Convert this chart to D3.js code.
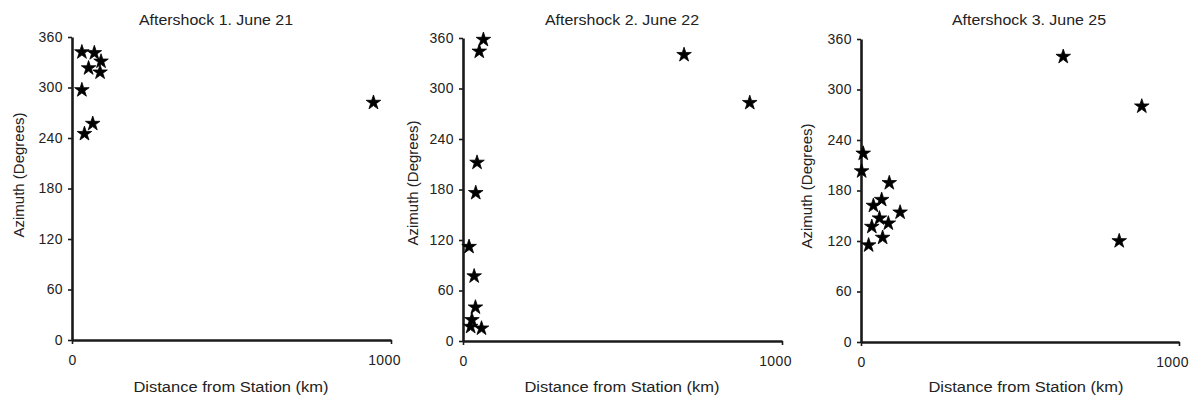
<!DOCTYPE html>
<html>
<head>
<meta charset="utf-8">
<script src="https://cdn.jsdelivr.net/npm/d3@7"></script>
<style>
  html, body { margin: 0; padding: 0; background: #fff; }
  svg { display: block; }
  text { font-family: "Liberation Sans", Arial, sans-serif; fill: #222; }
</style>
</head>
<body>
<svg id="chart" width="1194" height="401"></svg>
<script>
// ---- Data ----
const titles = ["Aftershock 1. June 21", "Aftershock 2. June 22", "Aftershock 3. June 25"];
const xTickValues = [0, 1000];
const yTickValues = [0, 60, 120, 180, 240, 300, 360];
const xLabel = "Distance from Station (km)";
const yLabel = "Azimuth (Degrees)";

const dist1 = [31, 70, 91, 52, 88, 31, 65, 39, 945];
const az1   = [342, 341, 331, 323, 318, 297, 257, 245, 282];

const dist2 = [64, 51, 693, 899, 44, 40, 19, 35, 39, 28, 24, 58];
const az2   = [358, 344, 340, 283, 212, 176, 112, 77, 40, 25, 17, 15];

const dist3 = [636, 883, 7, 2, 89, 65, 39, 123, 58, 86, 34, 68, 24, 812];
const az3   = [339, 280, 224, 203, 189, 169, 162, 154, 147, 141, 137, 124, 115, 120];

const seriesDist = [dist1, dist2, dist3];
const seriesAz = [az1, az2, az3];

// ---- Layout (pixel frames of the three panels) ----
const panels = [
  { x0: 72,  x1: 391,  y0: 340, y1: 37, titleX: 216,  xTitleX: 231,  yTitleX: 19,  yTitleY: 175 },
  { x0: 463, x1: 782,  y0: 341, y1: 38, titleX: 622,  xTitleX: 622,  yTitleX: 413, yTitleY: 183 },
  { x0: 861, x1: 1179, y0: 342, y1: 39, titleX: 1029, xTitleX: 1026, yTitleX: 807, yTitleY: 186 }
];

const svg = d3.select("#chart");
const star = d3.symbol().type(d3.symbolStar).size(66);

panels.forEach((p, i) => {
  const x = d3.scaleLinear().domain([0, 1000]).range([p.x0, p.x1]);
  const y = d3.scaleLinear().domain([0, 360]).range([p.y0, p.y1]);
  const g = svg.append("g");

  // y axis
  const yAxis = g.append("g")
    .attr("transform", `translate(${p.x0},0)`)
    .call(d3.axisLeft(y).tickValues(yTickValues).tickFormat(d3.format("d"))
      .tickSize(4).tickSizeOuter(0).tickPadding(5));
  // x axis
  const xAxis = g.append("g")
    .attr("transform", `translate(0,${p.y0})`)
    .call(d3.axisBottom(x).tickValues(xTickValues).tickFormat(d3.format("d"))
      .tickSize(4).tickSizeOuter(0).tickPadding(11));

  [yAxis, xAxis].forEach(a => {
    a.select(".domain").attr("stroke", "#1a1a1a").attr("stroke-width", 2.6);
    a.selectAll(".tick line").attr("stroke", "#1a1a1a").attr("stroke-width", 1.6);
    a.selectAll(".tick text")
      .style("font-family", "'Liberation Sans', Arial, sans-serif")
      .style("font-size", "14px")
      .style("letter-spacing", "0.4px")
      .attr("fill", "#2a2a2a");
  });
  xAxis.selectAll(".tick text").filter(d => d === 1000).attr("dx", -7);

  // title
  g.append("text")
    .attr("transform", `translate(${p.titleX},25) scale(1.1,1)`)
    .attr("text-anchor", "middle")
    .style("font-size", "14.5px")
    .text(titles[i]);

  // x title
  g.append("text")
    .attr("transform", `translate(${p.xTitleX},392) scale(1.1,1)`)
    .attr("text-anchor", "middle")
    .style("font-size", "15px")
    .text(xLabel);

  // y title
  g.append("text")
    .attr("transform", `translate(${p.yTitleX + 5},${p.yTitleY}) rotate(-90)`)
    .attr("text-anchor", "middle")
    .style("font-size", "15px")
    .text(yLabel);

  // points
  const pts = seriesDist[i].map((d, k) => ({ d, a: seriesAz[i][k] }));
  g.append("g").selectAll("path")
    .data(pts)
    .join("path")
    .attr("d", star)
    .attr("transform", q => `translate(${x(q.d)},${y(q.a)})`)
    .attr("fill", "#000")
    .attr("stroke", "#000")
    .attr("stroke-width", 0.8)
    .attr("stroke-linejoin", "round");
});
</script>
</body>
</html>
